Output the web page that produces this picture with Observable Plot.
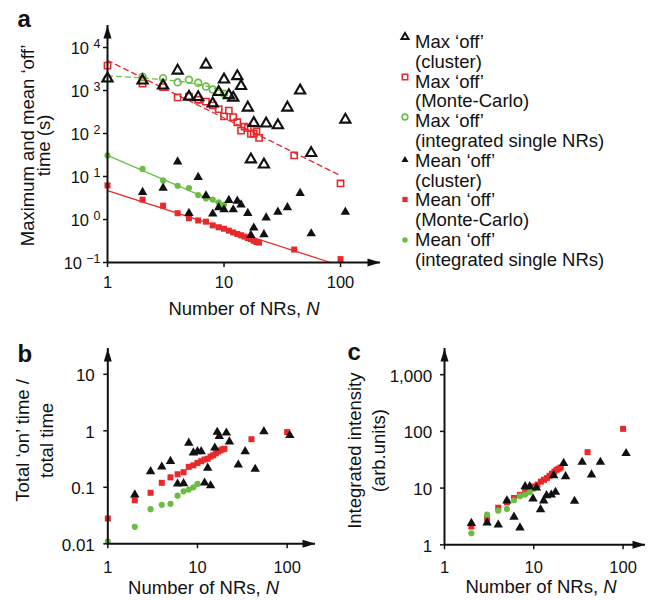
<!DOCTYPE html>
<html><head><meta charset="utf-8">
<script src="https://cdn.jsdelivr.net/npm/d3@7"></script>
<script src="https://cdn.jsdelivr.net/npm/@observablehq/plot@0.6"></script>
<style>
html,body{margin:0;padding:0;background:#fff;}
#fig{position:relative;width:659px;height:600px;overflow:hidden;}
#fig > div{position:absolute;}
svg{overflow:visible;}
</style></head><body><div id="fig"></div>
<script>
// ---------- Panel a data ----------
const aMaxClusterN = [1,2,3,4,5,6,7,8,9,10,11,12,13,14,16,17,18,22,23,29,35,45,56,110];
const aMaxClusterV = [1900,1700,1300,2900,720,700,4000,500,920,1800,780,680,2150,1270,400,25,175,19,170,155,400,1000,35,210];
const aMaxMCN = [1,2,3,4,5,6,7,8,9,10,11,12,13,14,15,16,17,18,19,20,40,100];
const aMaxMCV = [3800,1450,1200,690,720,610,550,450,370,250,340,240,183,117,145,135,98,100,113,79,31,6.9];
const aMaxSingleN = [1,2,3,4,5,6,7,8,9,10];
const aMaxSingleV = [1900,2100,1940,1560,1780,1510,1240,1050,950,840];
const aMeanClusterN = [2,3,4,5,6,7,8,9,10,11,12,13,14,16,17,18,22,23,29,35,45,56,110];
const aMeanClusterV = [4.3,5.4,22,1.4,9.6,3.6,1.35,1.9,1.7,2.8,1.7,2.7,2.2,1.4,0.43,0.64,0.45,1.1,1.5,1.9,4.1,0.47,1.5];
const aMeanMCN = [1,2,3,4,5,6,7,8,9,10,11,12,13,14,15,16,17,18,19,20,40,100];
const aMeanMCV = [6.2,2.9,2.1,1.4,1.07,0.95,0.89,0.73,0.66,0.61,0.55,0.50,0.46,0.43,0.40,0.37,0.35,0.32,0.30,0.29,0.20,0.12];
const aMeanSingleN = [1,2,3,4,5,6,7,8,9,10];
const aMeanSingleV = [31,15,8.1,6.1,5.4,3.7,3.1,2.9,2.5,2.2];
// fitted lines
const aFitMaxMCN = [1,100];
const aFitMaxMCV = [5000,10.5];
const aFitMaxSingleN = [1,2,4,6,8,10];
const aFitMaxSingleV = [2200,1950,1650,1400,1150,900];
const aFitMeanMCN = [1,82];
const aFitMeanMCV = [4.7,0.1];
const aFitMeanSingleN = [1,10];
const aFitMeanSingleV = [31,2.1];
const aXTicks = [1,10,100];
const aXTickLabels = ["1","10","100"];
const aYTicks = [0.1,1,10,100,1000,10000];
const aYExponents = ["−1","0","1","2","3","4"];
const aYTitle = ["Maximum and mean ‘off’","time (s)"];

// ---------- Panel b data ----------
const bClusterN = [2,3,4,5,6,7,8,9,10,11,12,13,14,15.6,16.6,17.5,21,22.7,28.5,34,44,55,107];
const bClusterV = [0.074,0.19,0.23,0.29,0.115,0.117,0.61,0.41,0.43,0.43,0.12,0.22,0.107,0.50,0.95,0.80,0.92,0.64,0.25,0.43,0.21,0.97,0.83];
const bMCN = [1,2,3,4,5,6,7,8,9,10,11,12,13,14,15,16,17,18,19,20,40,100];
const bMCV = [0.028,0.059,0.080,0.12,0.15,0.17,0.185,0.23,0.245,0.27,0.29,0.31,0.32,0.35,0.37,0.40,0.43,0.45,0.47,0.48,0.71,0.95];
const bSingleN = [1,2,3,4,5,6,7,8,9,10];
const bSingleV = [0.011,0.020,0.041,0.049,0.051,0.071,0.085,0.091,0.10,0.115];
const bXTicks = [1,10,100];
const bXTickLabels = ["1","10","100"];
const bYTicks = [0.01,0.1,1,10];
const bYTickLabels = ["0.01","0.1","1","10"];
const bYTitle = ["Total ‘on’ time /","total time"];

// ---------- Panel c data ----------
const cClusterN = [2,3,4,5,6,7,8,9,9.8,10.7,11.9,12.9,13.9,15.7,16.7,17.5,21.6,22.7,28.6,34.8,44.3,55.7,108];
const cClusterV = [2.4,2.45,2.25,6.0,3.1,2.0,10.7,10.7,6.5,10.1,4.2,6.0,7.4,7.6,16.7,8.5,27.5,16,5.9,28.7,17.2,28.7,41];
const cMCN = [2,3,4,5,6,7,8,9,10,11,12,13,14,15,16,17,18,19,20,40,100];
const cMCV = [2.1,2.9,4.5,5.6,6.7,7.6,9.3,10,10.7,11.5,13,14,15,16.5,18,19.5,21,22,23,43,111];
const cSingleN = [2,3,4,5,6,7,8,9,10];
const cSingleV = [1.6,3.4,4.0,4.3,6.1,7.2,7.7,8.5,9.7];
const cXTicks = [1,10,100];
const cXTickLabels = ["1","10","100"];
const cYTicks = [1,10,100,1000];
const cYTickLabels = ["1","10","100","1,000"];
const cYTitle = ["Integrated intensity","(arb.units)"];

const xTitleParts = ["Number of NRs,","N"];
const panelLetters = ["a","b","c"];
const legendLines = ["Max ‘off’","(cluster)","Max ‘off’","(Monte-Carlo)","Max ‘off’","(integrated single NRs)",
  "Mean ‘off’","(cluster)","Mean ‘off’","(Monte-Carlo)","Mean ‘off’","(integrated single NRs)"];

// ---------- styling ----------
const RED = "#e62a2c", GREEN = "#6dbd45", BLACK = "#111";
const FONT = '"Liberation Sans", Arial, Helvetica, sans-serif';
const tickLeft = {draw(c){c.moveTo(0,0);c.lineTo(-4.5,0);}};
const tickDown = {draw(c){c.moveTo(0,0);c.lineTo(0,4.5);}};
const arrowUp = {draw(c){c.moveTo(0,0);c.lineTo(4,13);c.lineTo(-4,13);c.closePath();}};
const arrowRight = {draw(c){c.moveTo(0,0);c.lineTo(-13,-4);c.lineTo(-13,4);c.closePath();}};

const rows = (N, V) => N.map((n, i) => ({n, v: V[i]}));

function axisMarks(xDom, yDom, xTicks, yTicks) {
  const [x0, x1] = xDom, [y0, y1] = yDom;
  return [
    Plot.ruleX([x0], {x: d => d, y1: y0, y2: y1, stroke: BLACK, strokeWidth: 2}),
    Plot.ruleY([y0], {y: d => d, x1: x0, x2: x1, stroke: BLACK, strokeWidth: 2}),
    Plot.dot([0], {x: () => x0, y: () => y1, symbol: arrowUp, fill: BLACK, stroke: "none"}),
    Plot.dot([0], {x: () => x1, y: () => y0, symbol: arrowRight, fill: BLACK, stroke: "none"}),
    Plot.dot(yTicks, {x: () => x0, y: d => d, symbol: tickLeft, stroke: BLACK, strokeWidth: 1.5, fill: "none"}),
    Plot.dot(xTicks, {x: d => d, y: () => y0, symbol: tickDown, stroke: BLACK, strokeWidth: 1.5, fill: "none"})
  ];
}
function xTickLabelMarks(xTicks, labels, y0, dy) {
  return Plot.text(xTicks, {x: d => d, y: () => y0, text: (d, i) => labels[i], textAnchor: "middle", lineAnchor: "bottom", dy, fontSize: 16.5, fill: BLACK});
}
function xTitleMarks(dxc, dy) {
  return [
    Plot.text([xTitleParts[0]], {frameAnchor: "bottom", text: d => d, textAnchor: "end", lineAnchor: "bottom", dx: dxc + 57.05, dy, fontSize: 18.5, fill: BLACK}),
    Plot.text([xTitleParts[1]], {frameAnchor: "bottom", text: d => d, textAnchor: "start", lineAnchor: "bottom", dx: dxc + 62.2, dy, fontSize: 18.5, fontStyle: "italic", fill: BLACK})
  ];
}
function yTitleMarks(lines, dx1, dx2, dy) {
  return [
    Plot.text([lines[0]], {frameAnchor: "left", text: d => d, rotate: -90, textAnchor: "middle", lineAnchor: "middle", dx: dx1, dy, fontSize: 18.5, fill: BLACK}),
    Plot.text([lines[1]], {frameAnchor: "left", text: d => d, rotate: -90, textAnchor: "middle", lineAnchor: "middle", dx: dx2, dy, fontSize: 18.5, fill: BLACK})
  ];
}
function letterMark(letter, dx, dy) {
  return Plot.text([letter], {frameAnchor: "top-left", text: d => d, textAnchor: "start", lineAnchor: "bottom", dx, dy, fontSize: 24, fontWeight: "bold", fill: BLACK});
}
const openTri = (data) => Plot.dot(data, {x: "n", y: "v", symbol: "triangle", r: 3.8, fill: "none", stroke: BLACK, strokeWidth: 2.1});
const openSq = (data) => Plot.dot(data, {x: "n", y: "v", symbol: "square", r: 3.5, fill: "none", stroke: RED, strokeWidth: 1.6});
const openCirc = (data) => Plot.dot(data, {x: "n", y: "v", symbol: "circle", r: 3.4, fill: "none", stroke: GREEN, strokeWidth: 1.7});
const fillTri = (data) => Plot.dot(data, {x: "n", y: "v", symbol: "triangle", r: 3.5, fill: BLACK, stroke: "none"});
const fillSq = (data) => Plot.dot(data, {x: "n", y: "v", symbol: "square", r: 3.4, fill: RED, stroke: "none"});
const fillCirc = (data) => Plot.dot(data, {x: "n", y: "v", symbol: "circle", r: 3.1, fill: GREEN, stroke: "none"});

const fig = document.getElementById("fig");
function place(el, left, top) {
  const d = document.createElement("div");
  d.style.left = left + "px"; d.style.top = top + "px";
  d.appendChild(el); fig.appendChild(d);
}

// ---------- Panel a ----------
{
  const xDom = [1, 10 ** 2.343], yDom = [0.1, 10 ** 4.512];
  const y0 = yDom[0], x0 = xDom[0];
  const pos = aYTicks.map((t, i) => ({t, e: aYExponents[i]}));
  const chart = Plot.plot({
    width: 380, height: 330, marginLeft: 107, marginRight: 0, marginTop: 25, marginBottom: 68,
    x: {type: "log", domain: xDom, axis: null},
    y: {type: "log", domain: yDom, axis: null},
    style: {fontFamily: FONT, background: "transparent", overflow: "visible"},
    marks: [
      Plot.line(rows(aFitMaxMCN, aFitMaxMCV), {x: "n", y: "v", stroke: RED, strokeWidth: 1.3, strokeDasharray: "5,4"}),
      Plot.line(rows(aFitMaxSingleN, aFitMaxSingleV), {x: "n", y: "v", stroke: GREEN, strokeWidth: 1.3, strokeDasharray: "5,4", curve: "monotone-x"}),
      Plot.line(rows(aFitMeanMCN, aFitMeanMCV), {x: "n", y: "v", stroke: RED, strokeWidth: 1.3}),
      Plot.line(rows(aFitMeanSingleN, aFitMeanSingleV), {x: "n", y: "v", stroke: GREEN, strokeWidth: 1.3}),
      openSq(rows(aMaxMCN, aMaxMCV)),
      openCirc(rows(aMaxSingleN, aMaxSingleV)),
      openTri(rows(aMaxClusterN, aMaxClusterV)),
      fillSq(rows(aMeanMCN, aMeanMCV)),
      fillCirc(rows(aMeanSingleN, aMeanSingleV)),
      fillTri(rows(aMeanClusterN, aMeanClusterV)),
      ...axisMarks(xDom, yDom, aXTicks, aYTicks),
      xTickLabelMarks(aXTicks, aXTickLabels, y0, 25),
      // y tick labels: "10" + superscript exponent
      Plot.text(pos.filter(d => d.t >= 1), {x: () => x0, y: "t", text: () => "10", textAnchor: "end", dx: -18.5, dy: 1.5, fontSize: 16.5, fill: BLACK}),
      Plot.text(pos.filter(d => d.t < 1), {x: () => x0, y: "t", text: () => "10", textAnchor: "end", dx: -25.5, dy: 1.5, fontSize: 16.5, fill: BLACK}),
      Plot.text(pos, {x: () => x0, y: "t", text: "e", textAnchor: "end", dx: -7, dy: -3.5, fontSize: 12.5, fill: BLACK}),
      ...xTitleMarks(0, 52),
      ...yTitleMarks(aYTitle, -79, -63, 1.5),
      letterMark(panelLetters[0], -90, 1.7)
    ]
  });
  place(chart, 0, 0);
}

// ---------- Panel b ----------
{
  const xDom = [1, 10 ** 2.316], yDom = [0.01, 10 ** 1.457];
  const chart = Plot.plot({
    width: 315, height: 270, marginLeft: 107.3, marginRight: 0, marginTop: 18, marginBottom: 56.7,
    x: {type: "log", domain: xDom, axis: null},
    y: {type: "log", domain: yDom, axis: null},
    style: {fontFamily: FONT, background: "transparent", overflow: "visible"},
    marks: [
      fillSq(rows(bMCN, bMCV)),
      fillCirc(rows(bSingleN, bSingleV)),
      fillTri(rows(bClusterN, bClusterV)),
      ...axisMarks(xDom, yDom, bXTicks, bYTicks),
      xTickLabelMarks(bXTicks, bXTickLabels, yDom[0], 29.4),
      Plot.text(bYTicks, {x: () => xDom[0], y: d => d, text: (d, i) => bYTickLabels[i], textAnchor: "end", dx: -13, dy: 1.5, fontSize: 17, fill: BLACK}),
      ...xTitleMarks(-8, 49.7),
      ...yTitleMarks(bYTitle, -85, -60.7, -5.7),
      letterMark(panelLetters[1], -90.3, 13.7)
    ]
  });
  place(chart, 0, 330);
}

// ---------- Panel c ----------
{
  const xDom = [1, 10 ** 2.251], yDom = [1, 10 ** 3.462];
  const chart = Plot.plot({
    width: 315, height: 270, marginLeft: 114, marginRight: 0, marginTop: 18, marginBottom: 55.7,
    x: {type: "log", domain: xDom, axis: null},
    y: {type: "log", domain: yDom, axis: null},
    style: {fontFamily: FONT, background: "transparent", overflow: "visible"},
    marks: [
      fillSq(rows(cMCN, cMCV)),
      fillCirc(rows(cSingleN, cSingleV)),
      fillTri(rows(cClusterN, cClusterV)),
      ...axisMarks(xDom, yDom, cXTicks, cYTicks),
      xTickLabelMarks(cXTicks, cXTickLabels, yDom[0], 28),
      Plot.text(cYTicks, {x: () => xDom[0], y: d => d, text: (d, i) => cYTickLabels[i], textAnchor: "end", dx: -12.3, dy: 1.5, fontSize: 17, fill: BLACK}),
      ...xTitleMarks(-4, 47.7),
      ...yTitleMarks(cYTitle, -89.4, -65.5, 4),
      letterMark(panelLetters[2], -97, 11)
    ]
  });
  place(chart, 330, 330);
}

// ---------- Legend (panel a) ----------
{
  const svg = d3.create("svg").attr("width", 289).attr("height", 300)
    .style("font-family", FONT).style("overflow", "visible");
  const syms = [
    {type: d3.symbolTriangle, size: 22, fill: "none", stroke: BLACK, sw: 2, y: 37},
    {type: d3.symbolSquare, size: 30, fill: "none", stroke: RED, sw: 1.5, y: 77},
    {type: d3.symbolCircle, size: 26, fill: "none", stroke: GREEN, sw: 1.6, y: 117},
    {type: d3.symbolTriangle, size: 22, fill: BLACK, stroke: "none", sw: 0, y: 160},
    {type: d3.symbolSquare, size: 28, fill: RED, stroke: "none", sw: 0, y: 199.5},
    {type: d3.symbolCircle, size: 24, fill: GREEN, stroke: "none", sw: 0, y: 240}
  ];
  syms.forEach(s => {
    svg.append("path").attr("d", d3.symbol(s.type, s.size)())
      .attr("transform", `translate(35,${s.y})`)
      .attr("fill", s.fill).attr("stroke", s.stroke).attr("stroke-width", s.sw);
  });
  legendLines.forEach((t, i) => {
    svg.append("text").attr("x", 45).attr("y", 48 + 19.8 * i)
      .attr("font-size", 18.5).attr("fill", BLACK).text(t);
  });
  place(svg.node(), 370, 0);
}
</script>
</body></html>
